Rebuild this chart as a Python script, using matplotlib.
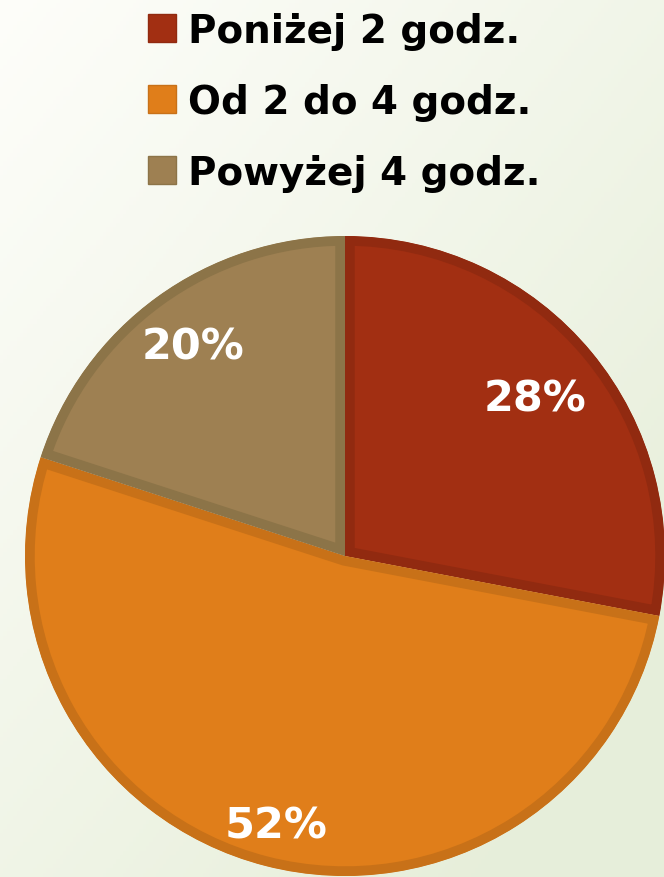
import numpy as np
import matplotlib
matplotlib.use("Agg")
import matplotlib.pyplot as plt
from matplotlib.lines import Line2D

# data
labels = ["Poniżej 2 godz.", "Od 2 do 4 godz.", "Powyżej 4 godz."]
shares = [28, 52, 20]

face = ["#a22f12", "#e07e1a", "#9e8052"]
edge = ["#912a10", "#c87118", "#8c7448"]
label_r = [0.77, 0.87, 0.81]

W, H = 664, 878
fig = plt.figure(figsize=(W / 100, H / 100), dpi=100)

# soft white -> pale green background
bg = fig.add_axes([0, 0, 1, 1], zorder=-1)
yy, xx = np.mgrid[0:1:200j, 0:1:200j]
g = np.clip(0.55 * xx + 0.6 * yy, 0, 1)
c0 = np.array([0.995, 0.995, 0.98])
c1 = np.array([0.905, 0.935, 0.855])
img = c0 + (c1 - c0) * g[..., None]
bg.imshow(img, extent=[0, 1, 0, 1], origin="upper", aspect="auto")
bg.axis("off")

ax = fig.add_axes([25 / W, 1 / H, 640 / W, 640 / H])
wedges, texts, autos = ax.pie(
    shares, colors=face, startangle=90, counterclock=False,
    autopct="%d%%", pctdistance=0.8, radius=1.0,
    wedgeprops=dict(linewidth=0),
    textprops=dict(color="white", fontsize=31, fontweight="bold",
                   family="DejaVu Sans"))
# inner border: stroke twice as wide, clipped to the wedge itself
for w, ec in zip(wedges, edge):
    w.set_edgecolor(ec)
    w.set_linewidth(14)
    w.set_clip_path(w)
    w.set_clip_on(True)
for t, r in zip(autos, label_r):
    x, y = t.get_position()
    s = r / 0.8
    t.set_position((x * s, y * s))
ax.set_xlim(-1, 1)
ax.set_ylim(-1, 1)
ax.set_aspect("equal")
ax.axis("off")

handles = [Line2D([], [], marker="s", linestyle="none", markersize=20,
                  markerfacecolor=f, markeredgecolor=e, markeredgewidth=1)
           for f, e in zip(face, edge)]
fig.legend(handles, labels, loc="upper left", bbox_to_anchor=(127 / W, 1 + 3 / H),
           frameon=False, handlelength=1.0, handletextpad=0.18,
           labelspacing=0.85, borderaxespad=0,
           prop=dict(size=28, weight="bold", family="DejaVu Sans"))

fig.savefig("out.png", dpi=100)
